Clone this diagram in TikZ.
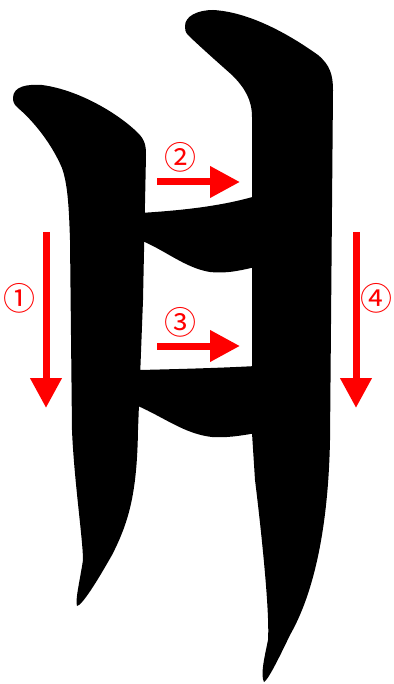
\documentclass[tikz,border=0pt]{standalone}
\usepackage{fontspec}
\newfontfamily\cjk{Noto Sans CJK SC}
\usetikzlibrary{arrows.meta}

\begin{document}
\begin{tikzpicture}[x=1pt, y=-1pt,
  glyph/.style={fill=black},
  order/.style={draw=red, line width=7pt, -{Triangle[length=30pt, width=30pt]}},
  num/.style={text=red, inner sep=0pt, font=\cjk\fontsize{32}{32}\selectfont}]
  \useasboundingbox (0,0) rectangle (393,684);

  % left vertical
  \path[glyph] (13,98) .. controls (13,86) and (28,84) .. (42,85)
    .. controls (80,90) and (120,115) .. (138,133)
    .. controls (145,140) and (146,146) .. (146,155)
    -- (143,300) -- (138,430)
    .. controls (137,490) and (130,520) .. (112,555)
    .. controls (95,585) and (82,605) .. (77,606)
    .. controls (75,600) and (80,580) .. (83,560)
    .. controls (83,540) and (74,480) .. (72,430)
    -- (70,240) .. controls (69,210) and (68,185) .. (62,168)
    .. controls (50,140) and (30,118) .. (18,108)
    .. controls (13,104) and (13,100) .. (13,98) -- cycle;

  % right vertical
  \path[glyph] (185,26) .. controls (185,16) and (198,10) .. (213,10)
    .. controls (250,12) and (290,35) .. (318,55)
    .. controls (330,65) and (333,75) .. (333,90)
    -- (330,440)
    .. controls (328,540) and (310,600) .. (290,635)
    .. controls (278,660) and (268,680) .. (264,682)
    .. controls (260,675) and (265,655) .. (268,640)
    .. controls (270,610) and (260,520) .. (255,480)
    -- (252,433) -- (252,117)
    .. controls (252,100) and (245,88) .. (232,75)
    .. controls (215,60) and (195,42) .. (188,35)
    .. controls (185,32) and (185,29) .. (185,26) -- cycle;

  % horizontals
  \path[glyph] (140,213) .. controls (190,210) and (225,205) .. (256,196)
    -- (256,267) .. controls (245,269) and (230,274) .. (210,272)
    .. controls (185,268) and (165,250) .. (140,240) -- cycle;
  \path[glyph] (140,370) .. controls (180,369) and (220,368) .. (256,366)
    -- (256,433) .. controls (240,436) and (225,438) .. (212,437)
    .. controls (185,434) and (165,418) .. (138,406) -- cycle;

  % stroke order
  \coordinate (s1) at (46,232);  \coordinate (e1) at (46,408);
  \coordinate (s2) at (157,182); \coordinate (e2) at (240,182);
  \coordinate (s3) at (157,346); \coordinate (e3) at (240,346);
  \coordinate (s4) at (356,232); \coordinate (e4) at (356,408);

  \draw[order] (s1) -- (e1);
  \draw[order] (s2) -- (e2);
  \draw[order] (s3) -- (e3);
  \draw[order] (s4) -- (e4);

  \node[num] (n1) at (19,298) {①};
  \node[num] (n2) at (180,157) {②};
  \node[num] (n3) at (180,322) {③};
  \node[num] (n4) at (376,298) {④};
\end{tikzpicture}
\end{document}
